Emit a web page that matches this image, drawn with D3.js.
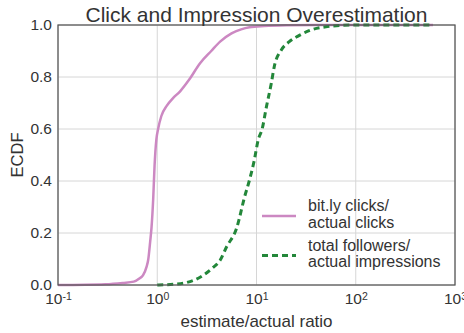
<!DOCTYPE html>
<html>
<head>
<meta charset="utf-8">
<script src="https://cdn.jsdelivr.net/npm/d3@7"></script>
<style>
  body { margin: 0; background: #fff; }
  svg { font-family: "Liberation Sans", Arial, sans-serif; }
</style>
</head>
<body>
<svg id="chart"></svg>
<script>
////////////////////////////////////////////////////////////////////////////////
// Data
////////////////////////////////////////////////////////////////////////////////

// bit.ly clicks / actual clicks  (ratio, ecdf)
const clickRatio = [0.1, 0.3, 0.45, 0.58, 0.66, 0.72, 0.78, 0.81, 0.85, 0.875, 0.91, 0.94, 0.98,
                    1.02, 1.1, 1.25, 1.45, 1.7, 2.1, 2.7, 3.5, 4.3, 5.6, 7, 8.5, 12, 20, 40, 600];
const clickEcdf  = [0, 0.003, 0.008, 0.013, 0.025, 0.038, 0.07, 0.096, 0.17, 0.22, 0.33, 0.46, 0.56,
                    0.6, 0.65, 0.69, 0.72, 0.745, 0.79, 0.853, 0.9, 0.936, 0.968, 0.983, 0.991, 0.996, 0.999, 1, 1];

// total followers / actual impressions
const imprRatio = [1, 1.5, 2.0, 2.7, 3.6, 4.3, 5.0, 6.3, 7.6, 8.5, 9.5, 10.4, 11.4, 12.6,
                   14.1, 15.1, 17.8, 21.4, 27, 35, 50, 93, 600];
const imprEcdf  = [0, 0.003, 0.01, 0.03, 0.065, 0.095, 0.147, 0.218, 0.34, 0.404, 0.48, 0.558, 0.6, 0.686,
                   0.776, 0.84, 0.904, 0.936, 0.96, 0.98, 0.993, 1, 1];

const seriesNames = [["bit.ly clicks/", "actual clicks"], ["total followers/", "actual impressions"]];
const xTicks = [0.1, 1, 10, 100, 1000];
const xTickExp = ["-1", "0", "1", "2", "3"];
const yTicks = [0, 0.2, 0.4, 0.6, 0.8, 1.0];

////////////////////////////////////////////////////////////////////////////////
// Layout
////////////////////////////////////////////////////////////////////////////////
const W = 464, H = 333;
const margin = { top: 25, right: 9, bottom: 48, left: 58 };
const width = W - margin.left - margin.right;
const height = H - margin.top - margin.bottom;
const textColor = "#333";
const colors = ["#cc88c2", "#23873a"];

const svg = d3.select("#chart")
  .attr("width", W)
  .attr("height", H);

const g = svg.append("g")
  .attr("transform", `translate(${margin.left},${margin.top})`);

const xScale = d3.scaleLog().domain([0.1, 1000]).range([0, width]);
const yScale = d3.scaleLinear().domain([0, 1]).range([height, 0]);

// grid
g.append("g").selectAll("line")
  .data(xTicks)
  .join("line")
    .attr("x1", d => xScale(d)).attr("x2", d => xScale(d))
    .attr("y1", 0).attr("y2", height)
    .attr("stroke", "#d6d6d6").attr("stroke-width", 1);
g.append("g").selectAll("line")
  .data(yTicks)
  .join("line")
    .attr("x1", 0).attr("x2", width)
    .attr("y1", d => yScale(d)).attr("y2", d => yScale(d))
    .attr("stroke", "#d6d6d6").attr("stroke-width", 1);

// lines
const line = d3.line()
  .x(d => xScale(d[0]))
  .y(d => yScale(d[1]))
  .curve(d3.curveMonotoneX);

const clickData = d3.zip(clickRatio, clickEcdf);
const imprData = d3.zip(imprRatio, imprEcdf);

g.append("path")
  .datum(clickData)
  .attr("d", line)
  .attr("fill", "none")
  .attr("stroke", colors[0])
  .attr("stroke-width", 2.5);

g.append("path")
  .datum(imprData)
  .attr("d", line)
  .attr("fill", "none")
  .attr("stroke", colors[1])
  .attr("stroke-width", 3)
  .attr("stroke-dasharray", "6,4");

// frame
g.append("rect")
  .attr("width", width).attr("height", height)
  .attr("fill", "none")
  .attr("stroke", "#555").attr("stroke-width", 1.25);

// x axis
const xAxis = d3.axisBottom(xScale).tickValues(xTicks).tickSize(0).tickFormat("");
const xg = g.append("g")
  .attr("transform", `translate(0,${height})`)
  .call(xAxis);
xg.select(".domain").remove();
xg.selectAll(".tick").each(function(d, i) {
  const t = d3.select(this).append("text")
    .attr("y", 19)
    .attr("text-anchor", "middle")
    .attr("fill", textColor)
    .style("font-size", "15.5px");
  t.append("tspan").text("10");
  t.append("tspan")
    .attr("dy", "-0.38em")
    .style("font-size", "10.5px")
    .text(xTickExp[i]);
});

// y axis
const yAxis = d3.axisLeft(yScale).tickValues(yTicks).tickSize(0).tickPadding(6)
  .tickFormat(d3.format(".1f"));
const yg = g.append("g").call(yAxis);
yg.select(".domain").remove();
yg.selectAll("text")
  .attr("fill", textColor)
  .style("font-size", "15.5px")
  .style("font-family", "'Liberation Sans', Arial, sans-serif");

// title and axis labels
svg.append("text")
  .attr("x", margin.left + width / 2)
  .attr("y", 21.5)
  .attr("text-anchor", "middle")
  .attr("fill", textColor)
  .style("font-size", "21px")
  .text("Click and Impression Overestimation");

svg.append("text")
  .attr("x", margin.left + width / 2)
  .attr("y", 327)
  .attr("text-anchor", "middle")
  .attr("fill", textColor)
  .style("font-size", "17px")
  .text("estimate/actual ratio");

svg.append("text")
  .attr("transform", `translate(23,${margin.top + height / 2}) rotate(-90)`)
  .attr("text-anchor", "middle")
  .attr("fill", textColor)
  .style("font-size", "16.5px")
  .text("ECDF");

// legend
const legend = svg.append("g");
const legendBase = [211, 250.5];
seriesNames.forEach(function(names, i) {
  legend.append("line")
    .attr("x1", 262).attr("x2", 296)
    .attr("y1", legendBase[i] + 5).attr("y2", legendBase[i] + 5)
    .attr("stroke", colors[i])
    .attr("stroke-width", i == 0 ? 2.5 : 3)
    .attr("stroke-dasharray", i == 0 ? null : "6,4");
  names.forEach(function(n, j) {
    legend.append("text")
      .attr("x", 308)
      .attr("y", legendBase[i] + j * 16.5)
      .attr("fill", textColor)
      .style("font-size", "16px")
      .text(n);
  });
});
</script>
</body>
</html>
